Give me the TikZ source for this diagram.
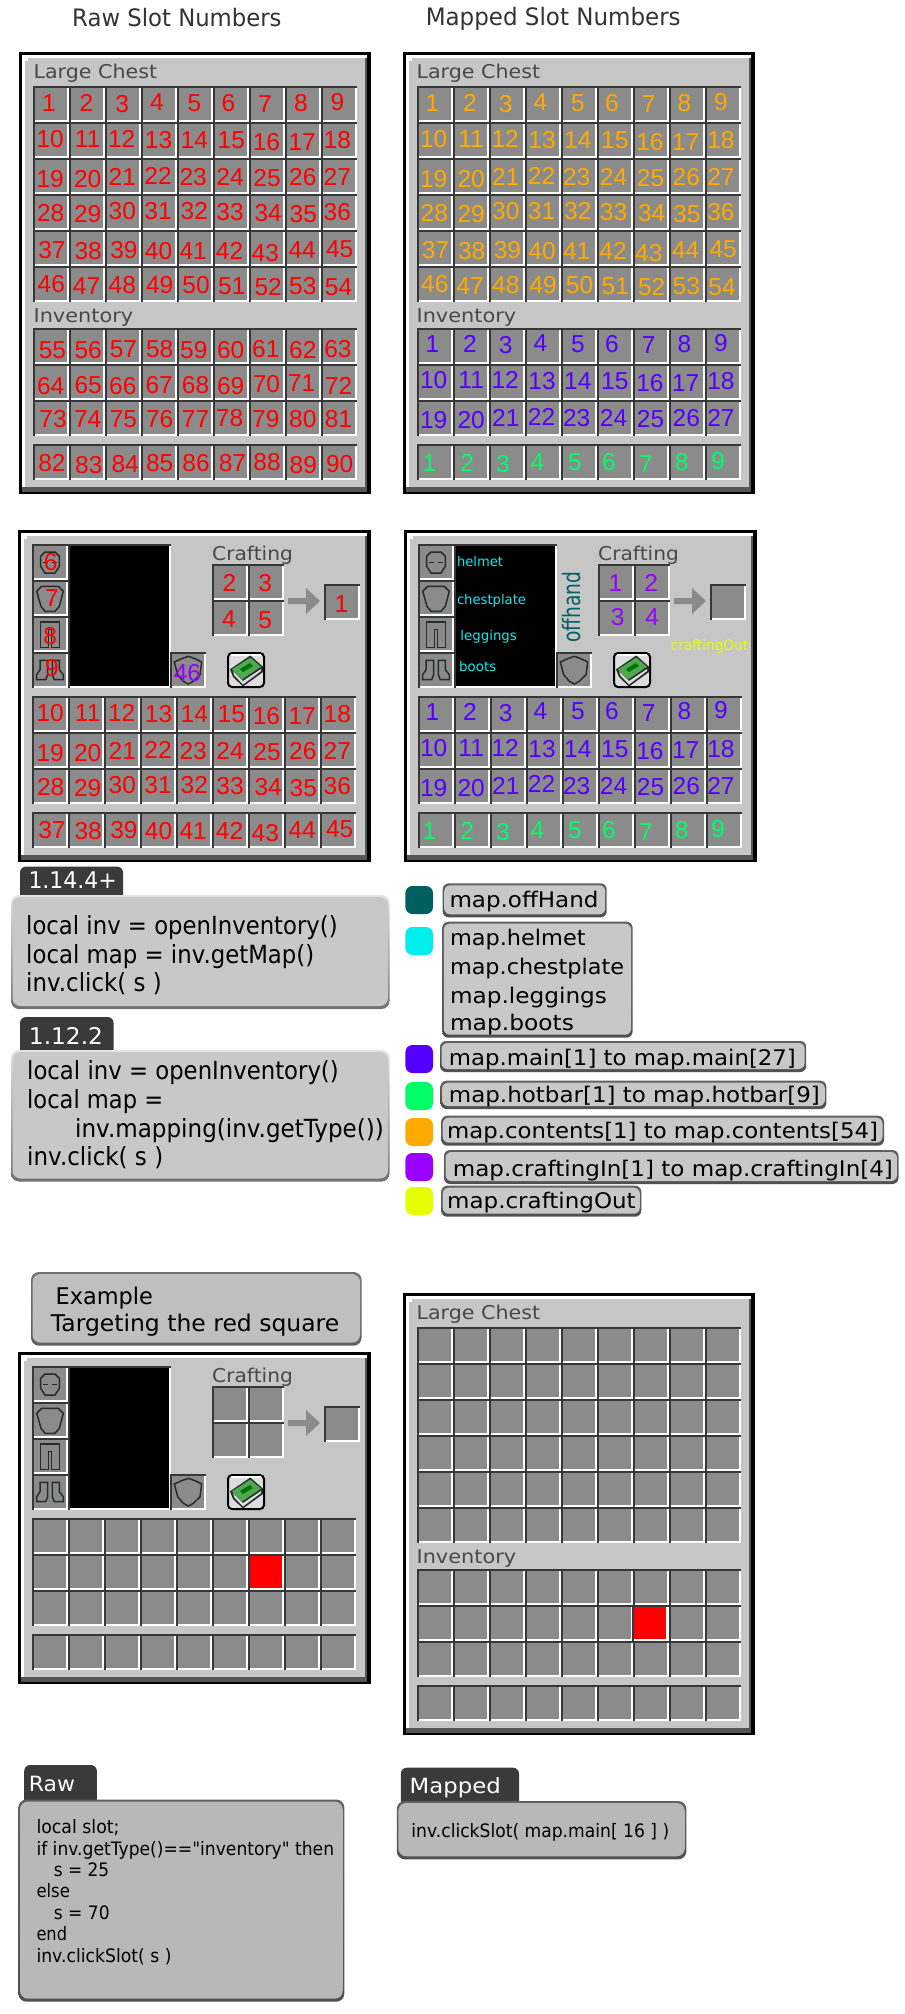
\documentclass[tikz,border=0pt]{standalone}
\usepackage{graphicx}
\usepackage{fontspec}
\setmainfont{Liberation Sans}
\newfontfamily\pixfont{DejaVu Sans}
\definecolor{slotgray}{HTML}{8B8B8B}
\definecolor{slotdark}{HTML}{373737}
\definecolor{panelgray}{HTML}{C6C6C6}
\definecolor{paneldark}{HTML}{555555}
\definecolor{tabdark}{HTML}{3A3A3A}
\definecolor{iconline}{HTML}{262B2B}
\definecolor{pixtext}{HTML}{484848}
\definecolor{numred}{HTML}{FF0000}
\definecolor{numorange}{HTML}{FFAA00}
\definecolor{numblue}{HTML}{5500FF}
\definecolor{numgreen}{HTML}{00FF66}
\definecolor{numpurple}{HTML}{9900FF}
\definecolor{numcyan}{HTML}{00EEEE}
\definecolor{numyellow}{HTML}{E5FF00}
\definecolor{numteal}{HTML}{005F60}
\definecolor{booklight}{HTML}{4FA84F}
\definecolor{boxlt}{HTML}{E4E4E4}
\definecolor{boxdk}{HTML}{707070}
\definecolor{boxmain}{HTML}{C8C8C8}
\definecolor{edgeA}{HTML}{606060}
\definecolor{edgeB}{HTML}{505050}
\definecolor{exmain}{HTML}{BFBFBF}
\definecolor{rawmain}{HTML}{B8B8B8}
\tikzset{
  icon/.style={draw=iconline,line width=1.5pt,line join=miter},
  num/.style={inner sep=0pt,anchor=center,font=\fontsize{24.5}{26}\selectfont},
  swatch/.style={rounded corners=7pt},
}
% name x baseline width size colour text
\newcommand\Lbl[7]{\node[inner sep=0pt,anchor=base west,text=#6,name=#1] at (#2,#3) {\pixfont\fontsize{#5}{#5}\selectfont\resizebox{#4pt}{\height}{#7}};}
\newcommand\Pix[5]{\node[inner sep=0pt,anchor=base west,text=pixtext,name=#1] at (#2,#3) {\pixfont\fontsize{19}{19}\selectfont\resizebox{#4pt}{\height}{#5}};}
\newcommand\Slot[5]{%
  \fill[slotdark] (#1,#2) rectangle ({#1+#3},{#2+#4});
  \fill[white] ({#1+2},{#2+2}) rectangle ({#1+#3},{#2+#4});
  \fill[#5] ({#1+2},{#2+2}) rectangle ({#1+#3-2},{#2+#4-2});}
\newcommand\Grid[4]{%
  \foreach \cc in {1,...,#3}{\foreach \rr in {1,...,#4}{%
    \Slot{#1+36*\cc-36}{#2+36*\rr-36}{36}{36}{slotgray}}}}
\newcommand\Panel[4]{%
  \fill[black] (#1,#2) rectangle (#3,#4);
  \fill[white] ({#1+3},{#2+3}) rectangle ({#3-4},{#4-2});
  \fill[paneldark] ({#1+3},{#4-7}) rectangle ({#3-4},{#4-2});
  \fill[paneldark] ({#3-6},{#2+6}) rectangle ({#3-4},{#4-2});
  \fill[panelgray] ({#1+6},{#2+6}) rectangle ({#3-6},{#4-7});
  \fill[white] ({#1+6},{#2+6}) rectangle ({#1+9},{#2+9});}
\newcommand\Nums[5]{%
  \foreach \t/\X/\Y in #1 {\node[num,text=#4,name=#5-\t] at ({#2+\X/1.734},{#3+\Y/3}) {\t};}}
% x0 y0 x1 y1 radius top-edge bottom-edge main
\newcommand\SBox[8]{%
  \shade[rounded corners=#5pt,top color=#6,bottom color=#7] (#1,#2) rectangle (#3,#4);
  \fill[rounded corners=#5pt,#8] ({#1+1.5},{#2+2}) rectangle ({#3-1.5},{#4-3});}
\newcommand\TabBox[4]{%
  \fill[tabdark,rounded corners=6pt] (#1,#2) -- (#3,#2) -- (#3,{#4+8}) -- (#1,{#4+8}) -- cycle;}
\newcommand\Swatch[3]{\fill[#3,swatch] (405.4,#1) rectangle (433,#2);}
\newcommand\CraftPanel[2]{%
  \begin{scope}[shift={(#1,#2)}]
  \Panel{18}{530}{371}{862}
  \foreach \rr in {0,1,2,3}{\Slot{32}{544+36*\rr}{36}{36}{slotgray}}
  \Slot{68}{544}{103}{144}{black}
  \Slot{170}{652}{36}{36}{slotgray}
  \Grid{212}{564}{2}{2}
  \Slot{324}{584}{36}{36}{slotgray}
  \fill[slotgray] (288,598) -- (306,598) -- (306,588) -- (320,601) -- (306,614) -- (306,604) -- (288,604) -- cycle;
  % helmet
  \draw[icon] (45,552) -- (55,552) -- (59.3,556.3) -- (59.3,566.3) -- (55,573) -- (45,573) -- (40.7,566.3) -- (40.7,556.3) -- cycle;
  \draw[icon] (43.3,562.3) -- (47.7,562.3) (52.3,562.3) -- (56.7,562.3);
  % chestplate
  \draw[icon] (41.7,586.3) -- (58.3,586.3) -- (63.3,591.3) -- (59.3,606.3) -- (55,611.3) -- (45,611.3) -- (41,606.3) -- (36.7,591.3) -- cycle;
  % leggings
  \draw[icon] (40.7,622) -- (59.3,622) -- (59.3,647.3) -- (51.7,647.3) -- (51.7,629.7) -- (48.3,629.7) -- (48.3,647.3) -- (40.7,647.3) -- cycle;
  % boots
  \draw[icon] (40,660.3) -- (47.7,660.3) -- (47.7,674.7) -- (45.7,679.7) -- (36.7,679.7) -- (36.7,674.7) -- (40,669.7) -- cycle;
  \draw[icon] (52.3,660.3) -- (59.3,660.3) -- (59.3,669.7) -- (63.3,674.7) -- (63.3,679.7) -- (54.3,679.7) -- (52.3,674.7) -- cycle;
  % shield
  \draw[icon] (188.3,656.3) -- (195,658.7) -- (201.7,662) -- (200,674.7) -- (193.3,681.3) -- (188.3,684) -- (183.3,681.3) -- (177.7,674.7) -- (174.3,662) -- (181.7,658.7) -- cycle;
  % recipe book
  \fill[panelgray!60!white,draw=black,line width=2pt,rounded corners=4pt] (228,653) rectangle (264,687);
  \draw[white,line width=1.5pt] (231,655) -- (261,655);
  \fill[iconline] (230,669.3) -- (250.3,655.5) -- (263,666.7) -- (263,672) -- (243,686.5) -- (233,677) -- cycle;
  \fill[white!88!black] (233,671) -- (243,681) -- (261,669) -- (261,671) -- (243,684.5) -- (234.5,675.5) -- cycle;
  \fill[booklight] (232,669.3) -- (250.3,657.5) -- (261,666.7) -- (242,679.5) -- cycle;
  \fill[green!45!black] (240,669) -- (250,663) -- (253,666) -- (243,672) -- cycle;
  \end{scope}}
\def\RowA{1/85/310,2/150/310,3/212/313,4/272/307,5/337/309,6/396/308,7/460/313,8/522/308,9/585/306}
\def\RowB{10/87/418,11/152/418,12/211/418,13/275/421,14/337/421,15/401/421,16/462/427,17/524/425,18/585/421}
\def\RowC{19/87/537,20/152/538,21/212/532,22/274/527,23/335/532,24/399/532,25/463/535,26/525/532,27/585/532}
\def\RowD{28/88/640,29/152/642,30/212/634,31/274/634,32/337/632,33/399/637,34/465/640,35/526/643,36/585/637}
\def\RowE{37/90/750,38/153/753,39/215/750,40/275/753,41/335/753,42/398/753,43/460/759,44/524/750,45/589/748}
\def\RowF{46/89/852,47/150/858,48/212/856,49/277/856,50/340/856,51/402/860,52/465/862,53/525/859,54/587/862}
\def\RowG{55/91/1050,56/153/1050,57/214/1048,58/277/1048,59/336/1050,60/400/1050,61/461/1048,62/525/1050,63/586/1048}
\def\RowH{64/88/1158,65/153/1155,66/213/1158,67/276/1156,68/339/1156,69/400/1158,70/462/1153,71/523/1150,72/587/1158}
\def\RowI{73/92/1256,74/152/1258,75/214/1258,76/277/1258,77/339/1256,78/398/1255,79/461/1258,80/525/1256,81/587/1258}
\def\RowJ{82/90/1390,83/154/1395,84/217/1393,85/277/1390,86/340/1390,87/403/1390,88/463/1387,89/526/1395,90/589/1393}
\begin{document}
\begin{tikzpicture}[x=1pt,y=-1pt]
\useasboundingbox (0,0) rectangle (905,2014);
\fill[white] (0,0) rectangle (905,2014);
% titles
\Lbl{title1}{72}{26}{209.4}{24}{black!80}{Raw Slot Numbers}
\Lbl{title2}{425.6}{25}{254.9}{24}{black!80}{Mapped Slot Numbers}
% chest panels
\foreach \pd/\py in {0/0,383.5/0,383.5/1241}{%
  \begin{scope}[shift={(\pd,\py)}]
  \Panel{19}{52}{371}{494}
  \Grid{33}{86}{9}{6}
  \Grid{33}{328}{9}{3}
  \Grid{33}{444}{9}{1}
  \end{scope}}
\Pix{lc1}{33.4}{78.5}{123.6}{Large Chest}
\Pix{inv1}{33.4}{322.5}{99.6}{Inventory}
\Pix{lc2}{416.4}{78.5}{123.6}{Large Chest}
\Pix{inv2}{416.4}{322.5}{99.6}{Inventory}
\Pix{lc3}{416.4}{1319.5}{123.6}{Large Chest}
\Pix{inv3}{416.4}{1563.5}{99.6}{Inventory}
\Nums{\RowA}{0}{0}{numred}{ra}
\Nums{\RowB}{0}{0}{numred}{rb}
\Nums{\RowC}{0}{0}{numred}{rc}
\Nums{\RowD}{0}{0}{numred}{rd}
\Nums{\RowE}{0}{0}{numred}{re}
\Nums{\RowF}{0}{0}{numred}{rf}
\Nums{\RowG}{0}{0}{numred}{rg}
\Nums{\RowH}{0}{0}{numred}{rh}
\Nums{\RowI}{0}{0}{numred}{ri}
\Nums{\RowJ}{0}{0}{numred}{rj}
\Nums{\RowA}{383.5}{0}{numorange}{oa}
\Nums{\RowB}{383.5}{0}{numorange}{ob}
\Nums{\RowC}{383.5}{0}{numorange}{oc}
\Nums{\RowD}{383.5}{0}{numorange}{od}
\Nums{\RowE}{383.5}{0}{numorange}{oe}
\Nums{\RowF}{383.5}{0}{numorange}{of}
\Nums{\RowA}{383.5}{241}{numblue}{ba}
\Nums{\RowB}{383.5}{241}{numblue}{bb}
\Nums{\RowC}{383.5}{241}{numblue}{bc}
\Nums{\RowA}{380.6}{359.3}{numgreen}{ga}
% crafting panels
\foreach \pd/\py in {0/0,386/0,0/822}{%
  \CraftPanel{\pd}{\py}
  \begin{scope}[shift={(\pd,\py)}]
  \Grid{32}{696}{9}{3}
  \Grid{32}{812}{9}{1}
  \end{scope}}
\Pix{cr1}{212}{560}{80.7}{Crafting}
\Pix{cr2}{598}{560}{80.7}{Crafting}
\Pix{cr3}{212}{1382}{80.7}{Crafting}
\Nums{{2/398/218,3/460/218,4/397/327,5/460/330,1/592/283,6/88/155,7/90/265,8/87/377,9/90/475}}{0}{510}{numred}{ca}
\Nums{{46/325/490}}{0}{510}{numpurple}{cb}
\Nums{\RowB}{0}{574}{numred}{cc}
\Nums{\RowC}{0}{574}{numred}{cd}
\Nums{\RowD}{0}{574}{numred}{ce}
\Nums{\RowE}{0}{580}{numred}{cf}
\Nums{{1/1067/218,2/1129/220,3/1071/322,4/1131/320}}{0}{510}{numpurple}{dp}
\Nums{\RowA}{383.5}{608.3}{numblue}{da}
\Nums{\RowB}{383.5}{608.7}{numblue}{db}
\Nums{\RowC}{383.5}{608.7}{numblue}{dc}
\Nums{\RowA}{380.6}{727.3}{numgreen}{dd}
\Lbl{lhelmet}{456.8}{566.7}{46}{13.5}{numcyan}{helmet}
\Lbl{lchest}{456.8}{604}{69}{13.5}{numcyan}{chestplate}
\Lbl{lleg}{460.2}{640.7}{56.5}{13.5}{numcyan}{leggings}
\Lbl{lboots}{459}{671.7}{37}{13.5}{numcyan}{boots}
\Lbl{lcout}{670.7}{650.7}{77.3}{14.5}{numyellow}{craftingOut}
\node[inner sep=0pt,anchor=base west,rotate=90,text=numteal,name=loff] at (580.8,643) {\pixfont\fontsize{24}{24}\selectfont\resizebox{71pt}{\height}{offhand}};
% version tabs and code
\TabBox{20}{866.5}{123}{893}
\Lbl{v114}{28.3}{888.5}{88.4}{23}{white}{1.14.4+}
\SBox{11}{895}{389.5}{1009}{8}{boxlt}{boxdk}{boxmain}
\Lbl{c1a}{26}{934}{311.4}{25}{black}{local inv = openInventory()}
\Lbl{c1b}{26}{963}{288}{25}{black}{local map = inv.getMap()}
\Lbl{c1c}{26}{991}{135.5}{25}{black}{inv.click( s )}
\TabBox{20}{1017}{113.6}{1049}
\Lbl{v112}{28.8}{1044}{74}{23}{white}{1.12.2}
\SBox{11}{1050}{389.5}{1181.5}{8}{boxlt}{boxdk}{boxmain}
\Lbl{c2a}{27}{1079}{311.5}{25}{black}{local inv = openInventory()}
\Lbl{c2b}{27}{1108}{136}{25}{black}{local map =}
\Lbl{c2c}{75}{1137}{308.5}{25}{black}{inv.mapping(inv.getType())}
\Lbl{c2d}{27}{1165}{136}{25}{black}{inv.click( s )}
% legend
\Swatch{886}{914}{numteal}
\Swatch{927}{955}{numcyan}
\Swatch{1045}{1073}{numblue}
\Swatch{1082}{1110}{numgreen}
\Swatch{1118}{1146}{numorange}
\Swatch{1153}{1181}{numpurple}
\Swatch{1187}{1215}{numyellow}
\SBox{442.7}{883.3}{606.7}{917.3}{6}{edgeA}{edgeB}{boxmain}
\Lbl{m1}{449.3}{907.3}{149}{21.5}{black}{map.offHand}
\SBox{442.3}{921.7}{632.6}{1037.7}{6}{edgeA}{edgeB}{boxmain}
\Lbl{m2a}{449.8}{945}{135.6}{21.5}{black}{map.helmet}
\Lbl{m2b}{449.8}{974}{174}{21.5}{black}{map.chestplate}
\Lbl{m2c}{449.8}{1003}{157}{21.5}{black}{map.leggings}
\Lbl{m2d}{449.8}{1030.7}{124}{21.5}{black}{map.boots}
\SBox{440}{1041}{806.2}{1072}{6}{edgeA}{edgeB}{boxmain}
\Lbl{m3}{448.7}{1065}{347}{21.5}{black}{map.main[1] to map.main[27]}
\SBox{440.5}{1080.7}{826.4}{1109}{6}{edgeA}{edgeB}{boxmain}
\Lbl{m4}{448.7}{1102.7}{371}{21.5}{black}{map.hotbar[1] to map.hotbar[9]}
\SBox{441.2}{1115.7}{884}{1145.7}{6}{edgeA}{edgeB}{boxmain}
\Lbl{m5}{447}{1138}{430.7}{21.5}{black}{map.contents[1] to map.contents[54]}
\SBox{444}{1150}{898.5}{1184}{6}{edgeA}{edgeB}{boxmain}
\Lbl{m6}{452.7}{1176}{440}{21.5}{black}{map.craftingIn[1] to map.craftingIn[4]}
\SBox{441.2}{1185.7}{641.3}{1216.7}{6}{edgeA}{edgeB}{boxmain}
\Lbl{m7}{447}{1208}{188.5}{21.5}{black}{map.craftingOut}
% example
\SBox{31}{1272}{361.6}{1345.7}{8}{boxdk}{edgeA}{exmain}
\Lbl{ex1}{55.4}{1304}{97.4}{23}{black}{Example}
\Lbl{ex2}{50.7}{1331.7}{288.4}{23}{black}{Targeting the red square}
\Slot{248}{1554}{36}{36}{numred}
\Slot{632}{1605}{36}{36}{numred}
% bottom code
\TabBox{24.2}{1765}{96.9}{1799}
\Lbl{traw}{28.8}{1791}{46}{21}{white}{Raw}
\SBox{18.5}{1799.5}{344.3}{2001.7}{8}{edgeA}{edgeB}{rawmain}
\Lbl{r1}{36.3}{1833.3}{83}{18.5}{black}{local slot;}
\Lbl{r2}{36.3}{1855}{297.6}{18.5}{black}{if inv.getType()=="inventory" then}
\Lbl{r3}{53.6}{1876}{55.4}{18.5}{black}{s = 25}
\Lbl{r4}{36.3}{1897.7}{33.5}{18.5}{black}{else}
\Lbl{r5}{53.6}{1919.3}{56}{18.5}{black}{s = 70}
\Lbl{r6}{36.3}{1940.7}{30.6}{18.5}{black}{end}
\Lbl{r7}{36.3}{1962.7}{135}{18.5}{black}{inv.clickSlot( s )}
\TabBox{400.8}{1767.7}{519}{1801}
\Lbl{tmap}{409.5}{1793}{91}{21}{white}{Mapped}
\SBox{396.8}{1801}{686.3}{1859.3}{8}{edgeA}{edgeB}{rawmain}
\Lbl{mp1}{411.2}{1837}{257.8}{18.5}{black}{inv.clickSlot( map.main[ 16 ] )}
\end{tikzpicture}
\end{document}
